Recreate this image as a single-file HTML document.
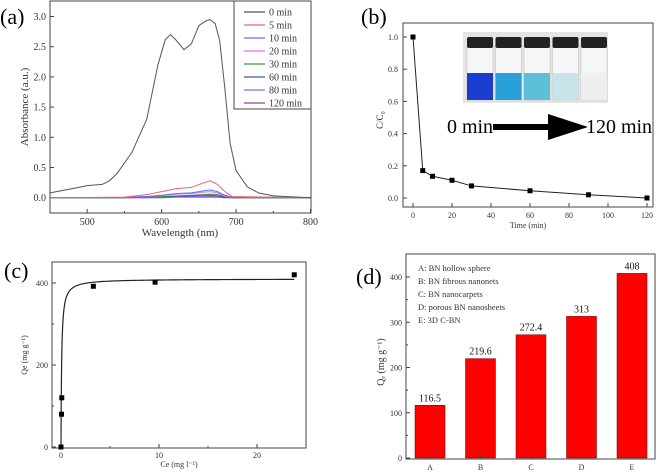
<!DOCTYPE html>
<html><head><meta charset="utf-8"><style>
body{margin:0;background:#fff}
svg{display:block}
svg text{font-family:"Liberation Serif","Times New Roman",serif}
</style></head><body>
<svg id="s" width="660" height="474">
<text x="0" y="24" font-size="22" font-family="Liberation Serif, serif">(a)</text>
<text x="361" y="24" font-size="22" font-family="Liberation Serif, serif">(b)</text>
<text x="4" y="278" font-size="22" font-family="Liberation Serif, serif">(c)</text>
<text x="356" y="284" font-size="22" font-family="Liberation Serif, serif">(d)</text>
</svg>
<script>
// Panel a data
const waveA=[450,480,500,520,530,540,560,580,595,605,612,620,630,640,650,660,665,672,678,685,692,700,715,730,750,800];
const abs0=[0.08,0.15,0.2,0.22,0.28,0.4,0.75,1.3,2.2,2.62,2.7,2.6,2.45,2.55,2.85,2.93,2.95,2.88,2.6,1.8,0.9,0.45,0.18,0.08,0.03,0];
const waveB=[450,550,580,600,620,640,655,665,675,685,695,800];
const absSeries=[[0,0.01,0.05,0.1,0.15,0.17,0.24,0.28,0.22,0.1,0.02,0],[0,0.005,0.02,0.04,0.07,0.08,0.11,0.13,0.1,0.04,0.01,0],[0,0.005,0.02,0.035,0.06,0.07,0.09,0.1,0.08,0.03,0.01,0],[0,0,0.01,0.02,0.03,0.04,0.05,0.06,0.05,0.02,0,0],[0,0,0.01,0.02,0.02,0.03,0.04,0.04,0.03,0.01,0,0],[0,0,0,0.01,0.01,0.02,0.02,0.03,0.02,0.01,0,0],[0,0,0,0,0.01,0.01,0.01,0.01,0.01,0,0,0]];
const legendA=["0 min","5 min","10 min","20 min","30 min","60 min","80 min","120 min"];
const colorsA=["#555","#f06070","#6070f0","#f070f0","#409040","#5050b0","#9060f0","#904090"];
const ticksAx=[500,600,700,800],ticksAy=[0,0.5,1,1.5,2,2.5,3];
// Panel b
const timeB=[0,5,10,20,30,60,90,120];
const ratioB=[1,0.17,0.135,0.11,0.075,0.045,0.02,0];
const ticksBx=[0,20,40,60,80,100,120],ticksBy=[0,0.2,0.4,0.6,0.8,1];
// Panel c
const ceC=[0,0.05,0.08,3.3,9.6,23.8];
const qeC=[0,80,120,392,402,420];
const ticksCx=[0,10,20],ticksCy=[0,200,400];
const qmC=410,kC=15;
// Panel d
const catsD=["A","B","C","D","E"];
const valsD=[116.5,219.6,272.4,313,408];
const ticksDy=[0,100,200,300,400];
const legendD=["A: BN hollow sphere","B: BN fibrous nanonets","C: BN nanocarpets","D: porous BN nanosheets","E: 3D C-BN"];

const S=document.getElementById('s');const NS="http://www.w3.org/2000/svg";
function el(t,a,txt){const e=document.createElementNS(NS,t);for(const k in a)e.setAttribute(k,a[k]);if(txt!==undefined)e.textContent=txt;S.appendChild(e);return e;}
function lin(d0,d1,r0,r1){return v=>r0+(v-d0)*(r1-r0)/(d1-d0);}
function box(x0,y0,x1,y1,n){const e=el('rect',{x:x0,y:y0,width:x1-x0,height:y1-y0,fill:'none',stroke:'#444','stroke-width':1});

}
function tick(x1,y1,x2,y2){el('line',{x1,y1,x2,y2,stroke:'#444','stroke-width':1});}
function txt(x,y,s,o){const e=el('text',Object.assign({x,y,'font-size':10,fill:'#333','text-anchor':'middle','font-family':'Liberation Serif, serif'},o||{}),s);return e;}

// ===== Panel A
{const X=lin(450,800,50,310.5),Y=lin(0,0.5,197.7,167.5);
box(50,1,311,213,'plot-a-frame');
ticksAx.forEach(v=>{tick(X(v),213,X(v),209);const t=txt(X(v),225,v);});
[550,650,750].forEach(v=>tick(X(v),213,X(v),211));
ticksAy.forEach(v=>{tick(50,Y(v),54,Y(v));const t=txt(46,Y(v)+3.5,v.toFixed(1),{'text-anchor':'end'});});
for(let i=6;i>=0;i--){const p=el('polyline',{points:waveB.map((w,j)=>X(w)+','+Y(absSeries[i][j])).join(' '),fill:'none',stroke:colorsA[i+1],'stroke-width':1});

}
const p0=el('polyline',{points:waveA.map((w,j)=>X(w)+','+Y(abs0[j])).join(' '),fill:'none',stroke:colorsA[0],'stroke-width':1,'stroke-linejoin':'round'});


el('rect',{x:234,y:1,width:77,height:108,fill:'#fff',stroke:'#444'});
legendA.forEach((s,i)=>{const y=12+i*13;el('line',{x1:244,y1:y,x2:265,y2:y,stroke:colorsA[i],'stroke-width':1.2});const t=txt(269,y+3.5,s,{'text-anchor':'start','font-size':10});

});
const xt=txt(180,236,'Wavelength (nm)',{'font-size':11});
const yt=txt(0,0,'Absorbance (a.u.)',{'font-size':11,transform:'translate(28,107) rotate(-90)'});}

// ===== Panel B
{const X=lin(0,120,413,647),Y=lin(0,1,198,37);
box(403,23,653,207,'plot-b-frame');
ticksBx.forEach(v=>{tick(X(v),207,X(v),203);const t=txt(X(v),218,v,{'font-size':8});});
ticksBy.forEach(v=>{tick(403,Y(v),407,Y(v));const t=txt(398,Y(v)+3,v.toFixed(1),{'text-anchor':'end','font-size':8});});
el('rect',{x:463,y:32,width:145,height:71,fill:'#e6e4e2'});
const fills=['#1a3fd0','#2aa0d8','#5cc0d8','#c6e4ea','#eef0f0'];
fills.forEach((f,i)=>{const x=467+i*28.5;el('rect',{x,y:45,width:26,height:55,fill:'#f4f6f7',stroke:'#bbb','stroke-width':0.5});el('rect',{x,y:73,width:26,height:27,fill:f});el('rect',{x:x,y:37,width:26,height:11,fill:'#222',rx:2});});
txt(470,133,'0 min',{'font-size':20,fill:'#000'});
txt(619,133,'120 min',{'font-size':20,fill:'#000'});
el('polygon',{points:'493,124 548,124 548,114 588,127 548,140 548,130 493,130',fill:'#000'});
const ln=el('polyline',{points:timeB.map((t,i)=>X(t)+','+Y(ratioB[i])).join(' '),fill:'none',stroke:'#222','stroke-width':1});

timeB.forEach((t,i)=>{const r=el('rect',{x:X(t)-2.5,y:Y(ratioB[i])-2.5,width:5,height:5,fill:'#000'});});
const xt=txt(528,228,'Time (min)',{'font-size':8});
const yt=txt(0,0,'C/C\u2080',{'font-size':9,transform:'translate(383,120) rotate(-90)'});}

// ===== Panel C
{const X=lin(0,20,61,257),Y=lin(0,400,447,283);
box(52,262,306,448,'plot-c-frame');
ticksCx.forEach(v=>{tick(X(v),448,X(v),444);const t=txt(X(v),458,v,{'font-size':8});});
[5,15].forEach(v=>tick(X(v),448,X(v),446));
ticksCy.forEach(v=>{tick(52,Y(v),56,Y(v));const t=txt(48,Y(v)+3,v,{'text-anchor':'end','font-size':8});});
[100,300].forEach(v=>tick(52,Y(v),54,Y(v)));
const pts=[];for(let c=0;c<=23.8;c+=(c<1?0.01:0.2))pts.push(X(c)+','+Y(qmC*kC*c/(1+kC*c)));
const f=el('polyline',{points:pts.join(' '),fill:'none',stroke:'#222','stroke-width':1.2});
ceC.forEach((c,i)=>{const r=el('rect',{x:X(c)-2.5,y:Y(qeC[i])-2.5,width:5,height:5,fill:'#000'});});
const xt=txt(179,467,'Ce (mg l\u207B\u00B9)',{'font-size':8});
const yt=txt(0,0,'Qe (mg g\u207B\u00B9)',{'font-size':8,transform:'translate(27,355) rotate(-90)'});}

// ===== Panel D
{const Y=lin(0,400,458,277),X=i=>430+i*50.5;
box(406,254,655,459,'plot-d-frame');
ticksDy.forEach(v=>{tick(406,Y(v),410,Y(v));const t=txt(402,Y(v)+3,v,{'text-anchor':'end','font-size':8});});
[50,150,250,350].forEach(v=>tick(406,Y(v),408,Y(v)));
catsD.forEach((c,i)=>{const r=el('rect',{x:X(i)-15,y:Y(valsD[i]),width:30,height:Y(0)-Y(valsD[i]),fill:'#f00',stroke:'#700','stroke-width':0.5});

const v=txt(X(i),Y(valsD[i])-4,valsD[i],{'font-size':10,'font-family':'Liberation Sans, sans-serif',fill:'#111'});
tick(X(i),459,X(i),455);
const t=txt(X(i),470,c,{'font-size':8});});
legendD.forEach((s,i)=>{const t=txt(418,271+i*13,s,{'text-anchor':'start','font-size':8.5});});
const yt=txt(0,0,'Q\u2091 (mg g\u207B\u00B9)',{'font-size':10,transform:'translate(384,362) rotate(-90)'});}
</script>
</body></html>
